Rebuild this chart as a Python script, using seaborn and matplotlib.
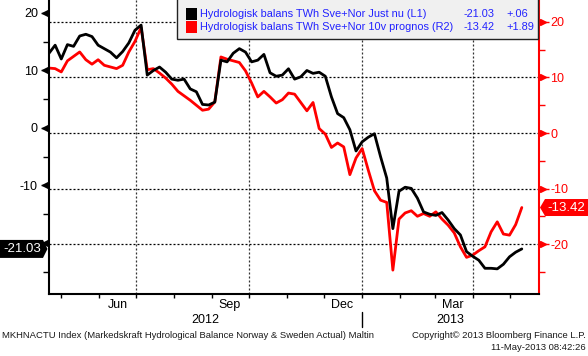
import numpy as np
import pandas as pd
import matplotlib
matplotlib.use("Agg")
import matplotlib.pyplot as plt
import seaborn as sns
import matplotlib.dates as mdates
from matplotlib.patches import Rectangle, Polygon
from matplotlib.transforms import ScaledTranslation

# ---------------- data ----------------
start_date = "2012-04-21"
end_date = "2013-05-11"
dates = pd.date_range(start_date, end_date, freq="5D")

actual_twh = [13.0, 14.4, 12.0, 14.5, 14.2, 16.0, 16.3, 15.9, 14.4, 13.8,
              13.2, 12.2, 13.3, 14.8, 17.0, 17.9, 9.2, 10.0, 10.6, 9.7,
              8.5, 8.3, 8.5, 6.8, 6.3, 4.1, 4.0, 4.5, 11.8, 11.5,
              13.0, 13.8, 13.2, 11.5, 11.8, 12.8, 9.6, 9.0, 9.2, 10.3,
              8.5, 8.9, 10.0, 9.5, 9.7, 9.0, 5.4, 2.5, 1.8, -0.3,
              -4.0, -2.4, -1.6, -1.0, -5.0, -8.7, -17.5, -11.0, -10.3, -10.5,
              -12.2, -14.6, -15.0, -15.2, -14.7, -16.0, -17.5, -18.6, -21.5, -22.3,
              -23.0, -24.4, -24.4, -24.5, -23.7, -22.4, -21.6, -21.03]

forecast_twh = [11.7, 11.6, 11.0, 13.0, 13.8, 14.6, 13.2, 12.4, 13.2, 12.2,
                11.9, 11.6, 12.2, 14.6, 16.5, 19.0, 11.4, 11.6, 10.8, 9.9,
                8.8, 7.5, 6.7, 5.9, 5.0, 4.1, 4.3, 5.6, 13.7, 13.3,
                13.0, 12.7, 11.2, 9.0, 6.5, 7.5, 6.5, 5.4, 6.0, 7.2,
                7.0, 5.5, 4.0, 5.5, 0.8, -0.2, -2.6, -1.8, -2.5, -7.5,
                -4.5, -2.8, -6.7, -10.4, -12.1, -12.5, -24.7, -15.5, -14.4, -14.0,
                -15.0, -14.5, -15.0, -14.2, -15.5, -16.6, -18.0, -20.5, -22.4, -22.0,
                -21.2, -20.5, -17.8, -16.0, -18.2, -18.4, -16.5, -13.42]

series_names = ["Hydrologisk balans TWh Sve+Nor Just nu (L1)",
                "Hydrologisk balans TWh Sve+Nor 10v prognos (R2)"]
last_values = ["-21.03", "-13.42"]
changes = ["+.06", "+1.89"]
left_ticks = [-20, -10, 0, 10, 20]
left_tick_labels = ["", "-10", "0", "10", "20"]   # -20 hidden behind the last-value tag
left_minor = [-25, -15, -5, 5, 15]
right_ticks = [-20, -10, 0, 10, 20]
right_minor = [-25, -15, -5, 5, 15]
month_labels = ["Jun", "Sep", "Dec", "Mar"]
month_label_dates = ["2012-06-16", "2012-09-15", "2012-12-16", "2013-03-16"]
year_labels = ["2012", "2013"]
year_boundary = "2013-01-01"
axis_end = "2013-05-25"
footer_left = "MKHNACTU Index (Markedskraft Hydrological Balance Norway & Sweden Actual) Maltin"
footer_copy = "Copyright\u00a9 2013 Bloomberg Finance L.P."
footer_time = "11-May-2013 08:42:26"

df = pd.DataFrame({"date": dates, "actual": actual_twh, "forecast": forecast_twh})

# ---------------- style ----------------
sns.set_theme(style="white")
plt.rcParams["font.family"] = ["Liberation Sans", "DejaVu Sans"]
plt.rcParams["lines.scale_dashes"] = False

W, H = 588, 356
def fx(x):
    return x / W
def fy(y):
    return 1 - y / H

fig = plt.figure(figsize=(W / 100, H / 100), dpi=100)
fig.patch.set_facecolor("white")
ax = fig.add_axes([fx(49), fy(294), (539 - 49) / W, 294 / H])
ax2 = ax.twinx()
ax.set_zorder(2)
ax2.set_zorder(1)
ax.patch.set_visible(False)
ax2.patch.set_facecolor("white")

sns.lineplot(data=df, x="date", y="forecast", ax=ax2, color="#ff0000", lw=2.0)
sns.lineplot(data=df, x="date", y="actual", ax=ax, color="black", lw=2.0)

x0 = mdates.date2num(pd.Timestamp(start_date))
x1 = mdates.date2num(pd.Timestamp(axis_end))
ax.set_xlim(x0, x1)
ax.set_ylim(-28.87, 22.26)
ax2.set_ylim(-29.0, 23.96)

for a in (ax, ax2):
    a.set_xlabel("")
    a.set_ylabel("")

# grid lines
dots = (0, (1.44, 1.44))
for q in pd.date_range("2012-07-01", "2013-04-01", freq="QS"):
    ax2.axvline(mdates.date2num(q), color="#333333", lw=0.9, ls=dots, zorder=0.5)
for t in right_ticks:
    ax2.axhline(t, color="black", lw=0.9, ls=dots, zorder=0.5)

# spines
for s in ("top", "right"):
    ax.spines[s].set_visible(False)
for s in ("top", "left", "bottom"):
    ax2.spines[s].set_visible(False)
ax.spines["left"].set_color("black")
ax.spines["left"].set_linewidth(1.5)
ax.spines["bottom"].set_color("black")
ax.spines["bottom"].set_linewidth(1.5)
ax2.spines["right"].set_color("#ff0000")
ax2.spines["right"].set_linewidth(1.5)

# x ticks: month starts
month_starts = pd.date_range("2012-05-01", "2013-05-01", freq="MS")
ax.set_xticks([mdates.date2num(m) for m in month_starts])
ax.set_xticklabels([])
ax.tick_params(axis="x", which="major", direction="out", length=3, width=1, color="black", bottom=True)
ax2.tick_params(axis="x", which="both", length=0)

# y ticks
ax.set_yticks(left_ticks)
ax.set_yticklabels(left_tick_labels)
ax.set_yticks(left_minor, minor=True)
ax.tick_params(axis="y", which="major", direction="out", length=6, width=1, color="black",
               pad=2, labelsize=9, labelcolor="black", left=True)
ax.tick_params(axis="y", which="minor", direction="out", length=4, width=1, color="black", left=True)
ax2.set_yticks(right_ticks)
ax2.set_yticklabels([str(t) for t in right_ticks])
ax2.set_yticks(right_minor, minor=True)
ax2.tick_params(axis="y", which="major", direction="out", length=7, width=1, color="#ff0000",
                pad=1, labelsize=9, labelcolor="#ff0000", right=True)
ax2.tick_params(axis="y", which="minor", direction="out", length=4, width=1, color="#ff0000", right=True)

# arrow shaped major ticks
offl = ScaledTranslation(-4 / 100, 0, fig.dpi_scale_trans)
ax.plot([0] * len(left_ticks), left_ticks, transform=ax.get_yaxis_transform() + offl,
        marker="<", ms=4.5, color="black", ls="none", clip_on=False)
offr = ScaledTranslation(4 / 100, 0, fig.dpi_scale_trans)
ax2.plot([1] * len(right_ticks), right_ticks, transform=ax2.get_yaxis_transform() + offr,
         marker=">", ms=4.5, color="#ff0000", ls="none", clip_on=False)

# month and year labels
xt = ax.get_xaxis_transform()
for lab, d in zip(month_labels, month_label_dates):
    ax.text(mdates.date2num(pd.Timestamp(d)), -11 / 294, lab, transform=xt,
            ha="center", va="center", fontsize=9, color="black")
xb = mdates.date2num(pd.Timestamp(year_boundary))
ax.text((x0 + xb) / 2, -26 / 294, year_labels[0], transform=xt, ha="center", va="center",
        fontsize=9, color="black")
ax.text((xb + x1) / 2, -26 / 294, year_labels[1], transform=xt, ha="center", va="center",
        fontsize=9, color="black")
ax.plot([xb, xb], [-18 / 294, -33 / 294], transform=xt, color="black", lw=1, clip_on=False)

# legend box
fig.add_artist(Rectangle((fx(177), fy(39)), (538 - 177) / W, 41 / H, facecolor="#f0f0f0",
                         edgecolor="#222222", lw=1, zorder=5))
sq_colors = ["black", "#ff0000"]
row_y = [14, 27]
blue = "#2222ff"
for i in range(2):
    fig.add_artist(Rectangle((fx(186), fy(row_y[i] + 5.5)), 11 / W, 11 / H,
                             facecolor=sq_colors[i], edgecolor="none", zorder=6))
    fig.text(fx(200), fy(row_y[i]), series_names[i], ha="left", va="center",
             fontsize=7.9, color=blue, zorder=7)
    fig.text(fx(495), fy(row_y[i]), last_values[i], ha="right", va="center",
             fontsize=7.9, color=blue, zorder=7)
    fig.text(fx(506), fy(row_y[i]), changes[i], ha="left", va="center",
             fontsize=7.9, color=blue, zorder=7)

# last value tags
fig.canvas.draw()
xe = mdates.date2num(dates[-1])
_, yl = ax.transData.transform((xe, actual_twh[-1]))
_, yr = ax2.transData.transform((xe, forecast_twh[-1]))
yl_px = H - yl
yr_px = H - yr
ptsL = [(0, yl_px - 9), (43, yl_px - 9), (47.5, yl_px), (43, yl_px + 9), (0, yl_px + 9)]
fig.add_artist(Polygon([(fx(a), fy(b)) for a, b in ptsL], closed=True, facecolor="black",
                       edgecolor="none", zorder=6))
fig.text(fx(22), fy(yl_px), last_values[0], ha="center", va="center", fontsize=9.5,
         color="white", zorder=7)
ptsR = [(540, yr_px), (545, yr_px - 8.5), (588, yr_px - 8.5), (588, yr_px + 8.5), (545, yr_px + 8.5)]
fig.add_artist(Polygon([(fx(a), fy(b)) for a, b in ptsR], closed=True, facecolor="#ff0000",
                       edgecolor="none", zorder=6))
fig.text(fx(566), fy(yr_px), last_values[1], ha="center", va="center", fontsize=9.5,
         color="white", zorder=7)

# footer
fig.text(fx(2), fy(336), footer_left, ha="left", va="center", fontsize=6.8, color="#1a1a1a")
fig.text(fx(586), fy(336), footer_copy, ha="right", va="center", fontsize=6.8, color="#1a1a1a")
fig.text(fx(586), fy(348), footer_time, ha="right", va="center", fontsize=6.8, color="#1a1a1a")

fig.savefig("out.png", dpi=100, facecolor="white")
